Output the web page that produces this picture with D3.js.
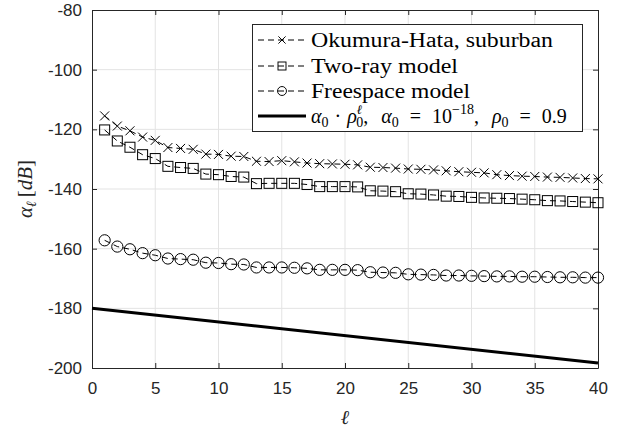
<!DOCTYPE html>
<html>
<head>
<meta charset="utf-8">
<script src="https://cdn.jsdelivr.net/npm/d3@7"></script>
<style>
  body { margin: 0; background: #fff; }
  svg { display: block; }
</style>
</head>
<body>
<div id="chart"></div>
<script>
// distance index l = 1..40
var ell = [1,2,3,4,5,6,7,8,9,10,11,12,13,14,15,16,17,18,19,20,
           21,22,23,24,25,26,27,28,29,30,31,32,33,34,35,36,37,38,39,40];

var okumura = [-115.5,-118.9,-120.5,-122.6,-123.7,-126.1,-126.4,-126.7,-128.3,-128.4,
               -129.0,-129.1,-130.7,-130.8,-130.5,-130.9,-131.3,-131.5,-131.6,-131.7,
               -131.9,-132.7,-132.8,-133.0,-133.3,-133.4,-133.6,-133.9,-134.2,-134.4,
               -134.6,-135.2,-135.5,-135.7,-135.8,-136.0,-136.1,-136.3,-136.5,-136.6];

var twoRay = [-120.2,-123.9,-126.0,-128.5,-129.8,-132.4,-132.8,-133.1,-135.0,-135.2,
              -135.8,-136.0,-138.2,-138.1,-138.1,-138.1,-138.5,-139.2,-139.2,-139.2,
              -139.3,-140.6,-140.7,-140.9,-141.6,-141.7,-142.0,-142.4,-142.5,-142.8,
              -143.0,-143.1,-143.2,-143.4,-143.6,-143.9,-144.0,-144.2,-144.4,-144.6];

var freespace = [-157.2,-159.3,-160.2,-161.5,-162.2,-163.3,-163.5,-163.7,-164.7,-164.8,
                 -165.2,-165.3,-166.3,-166.3,-166.3,-166.4,-166.6,-167.1,-167.1,-167.1,
                 -167.2,-167.9,-168.0,-168.1,-168.6,-168.7,-168.8,-169.0,-169.0,-169.1,
                 -169.2,-169.3,-169.3,-169.4,-169.4,-169.5,-169.6,-169.6,-169.7,-169.7];

// alpha0 * rho0^l model line (endpoints)
var refEll = [0, 40];
var refVal = [-180, -198.3];

var xTicks = [0,5,10,15,20,25,30,35,40];
var yTicks = [-200,-180,-160,-140,-120,-100,-80];

var margin = {top: 10, right: 26, bottom: 64, left: 92},
    W = 624, H = 432,
    width = W - margin.left - margin.right,
    height = H - margin.top - margin.bottom;

var axisColor = "#262626", gridColor = "#e3e3e3";
var serif = "'Liberation Serif', 'DejaVu Serif', serif";

var svg = d3.select("#chart").append("svg")
    .attr("width", W).attr("height", H);
var g = svg.append("g")
    .attr("transform", "translate(" + margin.left + "," + margin.top + ")");

var x = d3.scaleLinear().domain([0, 40]).range([0, width]);
var y = d3.scaleLinear().domain([-200, -80]).range([height, 0]);

// grid
g.append("g").selectAll("line").data(xTicks.slice(1, -1)).enter().append("line")
  .attr("x1", function(d){ return x(d); }).attr("x2", function(d){ return x(d); })
  .attr("y1", 0).attr("y2", height)
  .attr("stroke", gridColor).attr("stroke-width", 1);
g.append("g").selectAll("line").data(yTicks.slice(1, -1)).enter().append("line")
  .attr("y1", function(d){ return y(d); }).attr("y2", function(d){ return y(d); })
  .attr("x1", 0).attr("x2", width)
  .attr("stroke", gridColor).attr("stroke-width", 1);

// axes (ticks inside, box on)
var plain = function(d){ return String(d); };
function styleAxis(sel) {
  sel.select(".domain").attr("stroke", axisColor);
  sel.selectAll(".tick line").attr("stroke", axisColor);
  sel.selectAll("text").attr("fill", axisColor)
    .style("font-family", "'Liberation Sans', Arial, sans-serif")
    .style("font-size", "17px");
}
g.append("g").attr("transform", "translate(0," + height + ")")
  .call(d3.axisBottom(x).tickValues(xTicks).tickFormat(plain)
    .tickSizeInner(-5).tickSizeOuter(0).tickPadding(14))
  .call(styleAxis);
g.append("g")
  .call(d3.axisLeft(y).tickValues(yTicks).tickFormat(plain)
    .tickSizeInner(-5).tickSizeOuter(0).tickPadding(10))
  .call(styleAxis);
g.append("g")
  .call(d3.axisTop(x).tickValues(xTicks).tickSizeInner(-5).tickSizeOuter(0).tickFormat(""))
  .call(styleAxis);
g.append("g").attr("transform", "translate(" + width + ",0)")
  .call(d3.axisRight(y).tickValues(yTicks).tickSizeInner(-5).tickSizeOuter(0).tickFormat(""))
  .call(styleAxis);

// marker drawing
function drawMarker(sel, type) {
  if (type === "x") {
    sel.append("path").attr("d", "M-4.5,-4.5L4.5,4.5M-4.5,4.5L4.5,-4.5");
  } else if (type === "s") {
    sel.append("rect").attr("x", -5).attr("y", -5).attr("width", 10).attr("height", 10);
  } else {
    sel.append("circle").attr("r", 5.6);
  }
}

var series = [
  {name: "Okumura-Hata, suburban", vals: okumura, marker: "x", len: 242},
  {name: "Two-ray model", vals: twoRay, marker: "s", len: 147},
  {name: "Freespace model", vals: freespace, marker: "o", len: 159}
];

var line = d3.line()
  .x(function(d){ return x(d[0]); })
  .y(function(d){ return y(d[1]); });

series.forEach(function(s) {
  var pts = ell.map(function(l, i){ return [l, s.vals[i]]; });
  g.append("path").datum(pts)
    .attr("d", line)
    .attr("fill", "none").attr("stroke", "#000")
    .attr("stroke-width", 1).attr("stroke-dasharray", "6,4");
  g.append("g").selectAll("g").data(pts).enter().append("g")
    .attr("transform", function(d){ return "translate(" + x(d[0]) + "," + y(d[1]) + ")"; })
    .attr("fill", "none").attr("stroke", "#000").attr("stroke-width", 1)
    .each(function(){ drawMarker(d3.select(this), s.marker); });
});

// reference line
g.append("path")
  .datum(refEll.map(function(l, i){ return [l, refVal[i]]; }))
  .attr("d", line)
  .attr("fill", "none").attr("stroke", "#000").attr("stroke-width", 3);

// legend
var lg = svg.append("g");
lg.append("rect")
  .attr("x", 252.5).attr("y", 24.5).attr("width", 330).attr("height", 107)
  .attr("fill", "#fff").attr("stroke", axisColor).attr("stroke-width", 1);

var rowY = [40, 66, 91, 116];
series.forEach(function(s, i) {
  var r = lg.append("g").attr("transform", "translate(0," + rowY[i] + ")");
  r.append("line").attr("x1", 258).attr("x2", 306).attr("y1", 0).attr("y2", 0)
    .attr("stroke", "#000").attr("stroke-width", 1).attr("stroke-dasharray", "6,4");
  var m = r.append("g").attr("transform", "translate(282,0) scale(0.8)")
    .attr("fill", "none").attr("stroke", "#000").attr("stroke-width", 1.2);
  drawMarker(m, s.marker);
  r.append("text").attr("x", 311).attr("y", 7)
    .attr("textLength", s.len).attr("lengthAdjust", "spacingAndGlyphs")
    .style("font-family", serif).style("font-size", "20px")
    .attr("fill", "#000").text(s.name);
});

var r4 = lg.append("g").attr("transform", "translate(0," + rowY[3] + ")");
r4.append("line").attr("x1", 258).attr("x2", 306).attr("y1", 0).attr("y2", 0)
  .attr("stroke", "#000").attr("stroke-width", 3);
var t4 = r4.append("text").attr("x", 311).attr("y", 7)
  .style("font-family", serif).style("font-size", "20px").attr("fill", "#000");
function span(t, txt, opt) {
  var s = t.append("tspan").text(txt);
  opt = opt || {};
  if (opt.italic) s.style("font-style", "italic");
  if (opt.size) s.style("font-size", opt.size + "px");
  if (opt.dy !== undefined) s.attr("dy", opt.dy);
  if (opt.dx !== undefined) s.attr("dx", opt.dx);
  return s;
}
span(t4, "α", {italic: true});
span(t4, "0", {size: 14, dy: 4});
span(t4, "·", {dy: -4, dx: 6});
span(t4, "ρ", {italic: true, dx: 6});
span(t4, "ℓ", {italic: true, size: 13, dy: -9});
span(t4, "0", {size: 14, dy: 13, dx: -6});
span(t4, ",", {dy: -4});
span(t4, "α", {italic: true, dx: 13});
span(t4, "0", {size: 14, dy: 4});
span(t4, "=", {dy: -4, dx: 11});
span(t4, "10", {dx: 11});
span(t4, "−18", {size: 14, dy: -9});
span(t4, ",", {dy: 9});
span(t4, "ρ", {italic: true, dx: 13});
span(t4, "0", {size: 14, dy: 4});
span(t4, "=", {dy: -4, dx: 11});
span(t4, "0.9", {dx: 11});

// axis labels
var xl = svg.append("text")
  .attr("x", margin.left + width / 2).attr("y", 424)
  .attr("text-anchor", "middle")
  .style("font-family", serif).style("font-size", "20px").attr("fill", axisColor);
span(xl, "ℓ", {italic: true});

var yl = svg.append("text")
  .attr("transform", "translate(32," + (margin.top + height / 2) + ") rotate(-90)")
  .attr("text-anchor", "middle")
  .style("font-family", serif).style("font-size", "21px").attr("fill", axisColor);
span(yl, "α", {italic: true});
span(yl, "ℓ", {italic: true, size: 14, dy: 4});
span(yl, "[", {dy: -4, dx: 4});
span(yl, "dB", {italic: true});
span(yl, "]");
</script>
</body>
</html>
